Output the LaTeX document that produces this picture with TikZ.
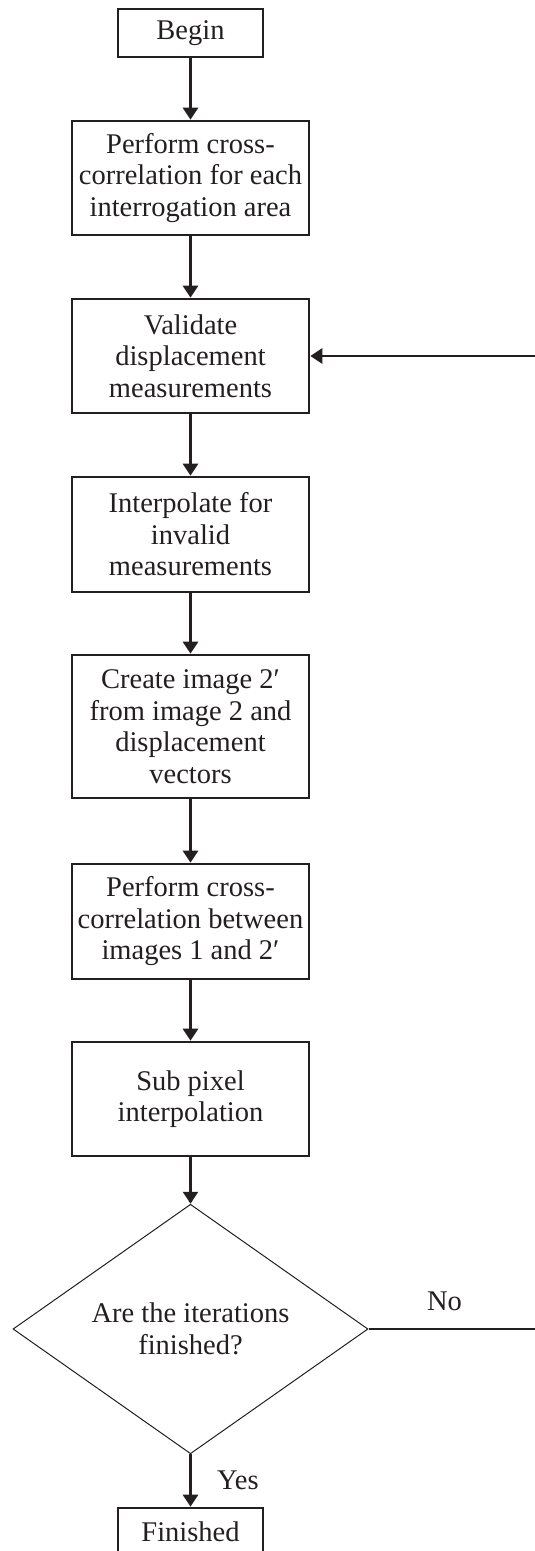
\documentclass[tikz,border=0pt]{standalone}
\usepackage{fontspec}
\setmainfont{Liberation Serif}
\usepackage{xcolor}
\usetikzlibrary{shapes.geometric, arrows.meta}

\definecolor{ink}{HTML}{231F20}
\newcommand{\flowfont}{\fontsize{28.5}{31.5}\selectfont}

\tikzset{
  stepbox/.style={draw=ink, text=ink, line width=2.6pt, minimum width=237pt, minimum height=114pt, inner sep=0pt, align=center, font=\flowfont},
  endbox/.style={draw=ink, text=ink, line width=2.6pt, minimum width=145pt, minimum height=48pt, inner sep=0pt, font=\flowfont},
  askbox/.style={diamond, draw=ink, text=ink, line width=1pt, minimum width=355pt, minimum height=212pt, inner sep=0pt, align=center, font=\flowfont},
  flow/.style={draw=ink, line width=2.6pt, -{Triangle[length=12pt,width=15pt]}},
  flowlabel/.style={text=ink, font=\flowfont},
}

\begin{document}
\begin{tikzpicture}[x=1pt, y=-1pt]
				\useasboundingbox (0,0) rectangle (535,1551);
				\clip (0,0) rectangle (535,1551);

				% steps, top to bottom
				\node[endbox] (begin) at (190.5,33) {Begin};
				\node[stepbox] (corr) at (190.5,178) {Perform cross-\\correlation for each\\interrogation area};
				\node[stepbox] (valid) at (190.5,356) {Validate\\displacement\\measurements};
				\node[stepbox, minimum height=115pt] (interp) at (190.5,534.5) {Interpolate for\\invalid\\measurements};
				\node[stepbox, minimum height=143pt] (create) at (190.5,726.5) {Create image 2′\\from image 2 and\\displacement\\vectors};
				\node[stepbox, minimum height=115pt] (corrtwo) at (190.5,921.5) {Perform cross-\\correlation between\\images 1 and 2′};
				\node[stepbox] (subpix) at (190.5,1099) {Sub pixel\\interpolation};
				\node[askbox] (check) at (190.5,1329) {Are the iterations\\finished?};
				\node[endbox] (done) at (190.5,1532) {Finished};

				\draw[flow] (begin) -- (corr);
				\draw[flow] (corr) -- (valid);
				\draw[flow] (valid) -- (interp);
				\draw[flow] (interp) -- (create);
				\draw[flow] (create) -- (corrtwo);
				\draw[flow] (corrtwo) -- (subpix);
				\draw[flow] (subpix) -- (check);
				\draw[flow] (check) -- node[flowlabel, right=22pt] (yes) {Yes} (done);

				% loop back
				\draw[flow] (check.east) -- node[flowlabel, pos=0.38, above=14pt] (no) {No} ++(200,0) |- (valid.east);
			\end{tikzpicture}
\end{document}
